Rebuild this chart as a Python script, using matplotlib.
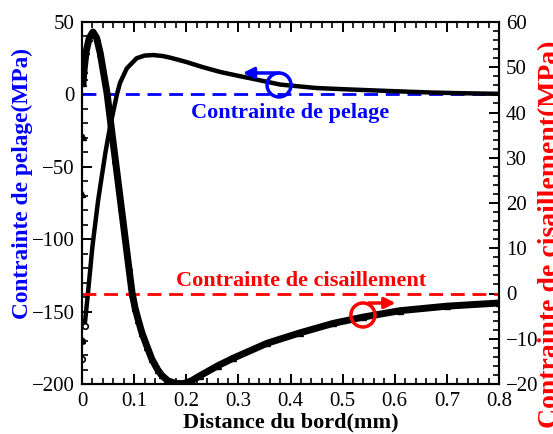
import matplotlib
matplotlib.use('Agg')
import matplotlib.pyplot as plt
from matplotlib.patches import Ellipse
from matplotlib.ticker import MultipleLocator

# Contrainte de pelage (axe gauche, MPa)
x_pelage = [0.0, 0.0, 0.005, 0.0115, 0.02, 0.031, 0.045, 0.054, 0.067, 0.073,
            0.086, 0.105, 0.12, 0.136, 0.155, 0.17, 0.2, 0.23, 0.265, 0.3,
            0.33, 0.38, 0.45, 0.5, 0.55, 0.6, 0.67, 0.73, 0.8]
pelage = [-183, -170, -160, -137, -105, -73, -40, -22, 0, 8,
          18, 25, 26.8, 27.2, 26.5, 25.3, 22.4, 19.0, 15.5, 12.8,
          10.6, 6.8, 4.4, 3.6, 2.9, 2.2, 1.3, 0.8, 0.4]

# Contrainte de cisaillement (axe droit, MPa)
x_cis = [0.0, 0.0005, 0.001, 0.002, 0.004, 0.008, 0.014, 0.021, 0.028, 0.035,
         0.048, 0.056, 0.064, 0.0753, 0.0897, 0.096, 0.102, 0.108, 0.115, 0.125,
         0.134, 0.145, 0.153, 0.165, 0.18, 0.195, 0.21, 0.226, 0.26, 0.29,
         0.355, 0.418, 0.482, 0.54, 0.61, 0.7, 0.8]
cis = [-10.3, 22, 34.6, 46.5, 49.5, 53.5, 56.5, 57.8, 56.5, 53.1,
       44.3, 36.8, 29.5, 19.1, 5.9, 0.2, -3.3, -5.9, -8.7, -11.8,
       -14.5, -16.8, -18.1, -19.3, -19.9, -19.9, -19.3, -18.2, -16.0, -14.3,
       -11.0, -8.7, -6.6, -5.2, -3.8, -2.8, -2.1]

plt.rcParams['font.family'] = ['Liberation Serif', 'DejaVu Serif']

fig = plt.figure(figsize=(5.53, 4.34), dpi=100)
ax = fig.add_axes([82 / 553, 1 - 384 / 434, 417 / 553, 362 / 434])
ax2 = ax.twinx()

# courbes : cercles creux (pelage), triangles pleins (cisaillement)
ax.plot(x_pelage[2:], pelage[2:], color='black', lw=3.2, zorder=3,
        solid_joinstyle='round')
ax.plot(x_pelage[:3], pelage[:3], ls='none', marker='o', ms=4, mfc='white',
        mec='black', mew=1.2, zorder=4)
ax2.plot(x_cis[3:], cis[3:], color='black', lw=5, zorder=3,
         solid_joinstyle='round')
ax2.plot(x_cis, cis, ls='none', marker='^', ms=5, color='black', zorder=3)

# lignes de référence
ax.axhline(0, color='blue', ls=(0, (5, 2.8)), lw=2, zorder=2)
ax2.axhline(0, color='red', ls=(0, (5, 2.8)), lw=2, zorder=2)

ax.set_xlim(0, 0.8)
ax.set_ylim(-200, 50)
ax2.set_ylim(-20, 60)

ax.xaxis.set_minor_locator(MultipleLocator(0.02))
ax.yaxis.set_major_locator(MultipleLocator(50))
ax.yaxis.set_minor_locator(MultipleLocator(10))
ax2.yaxis.set_major_locator(MultipleLocator(10))
ax2.yaxis.set_minor_locator(MultipleLocator(2))
ax.set_xticks([0, 0.1, 0.2, 0.3, 0.4, 0.5, 0.6, 0.7, 0.8])
ax.set_xticklabels(['0', '0.1', '0.2', '0.3', '0.4', '0.5', '0.6', '0.7', '0.8'])

ax.tick_params(axis='x', which='both', direction='in', top=True, labelsize=15, pad=6)
ax.tick_params(axis='y', which='both', direction='in', right=False, labelsize=15, pad=5)
ax2.tick_params(axis='y', which='both', direction='in', labelsize=15, pad=5)
for a in (ax, ax2):
    a.tick_params(which='major', length=7.5, width=1.4)
    a.tick_params(which='minor', length=4, width=1.2)
    for s in a.spines.values():
        s.set_linewidth(1.5)

ax.set_xlabel('Distance du bord(mm)', fontsize=16, fontweight='bold')
ax.xaxis.set_label_coords(0.5, -0.08)
ax.set_ylabel('Contrainte de pelage(MPa)', fontsize=16.8, fontweight='bold',
              color='blue')
ax.yaxis.set_label_coords(-0.1175, 0.555)
ax2.set_ylabel('Contrainte de cisaillement(MPa)', fontsize=20, fontweight='bold',
               color='red', rotation=90)
ax2.yaxis.set_label_coords(1.0935, 0.413)

# annotations
ax.text(0.499, 0.749, 'Contrainte de pelage', color='blue', fontsize=16,
        fontweight='bold', ha='center', va='center', transform=ax.transAxes)
ax.text(0.526, 0.285, 'Contrainte de cisaillement', color='red', fontsize=16,
        fontweight='bold', ha='center', va='center', transform=ax.transAxes)

# cercles + flèches
ax.add_patch(Ellipse((0.378, 6.5), 24 / 521.25, 24 / 1.448,
                     fill=False, ec='blue', lw=2.5, zorder=5))
ax.annotate('', xy=(0.303, 14.8), xytext=(0.382, 14.8),
            arrowprops=dict(arrowstyle='-|>', color='blue', lw=2.5,
                            mutation_scale=16), zorder=5)
ax2.add_patch(Ellipse((0.539, -4.75), 24 / 521.25, 24 / 4.525,
                      fill=False, ec='red', lw=2.5, zorder=5))
ax2.annotate('', xy=(0.607, -2.1), xytext=(0.545, -2.1),
             arrowprops=dict(arrowstyle='-|>', color='red', lw=2.5,
                             mutation_scale=16), zorder=5)

fig.savefig('out.png', dpi=100)
